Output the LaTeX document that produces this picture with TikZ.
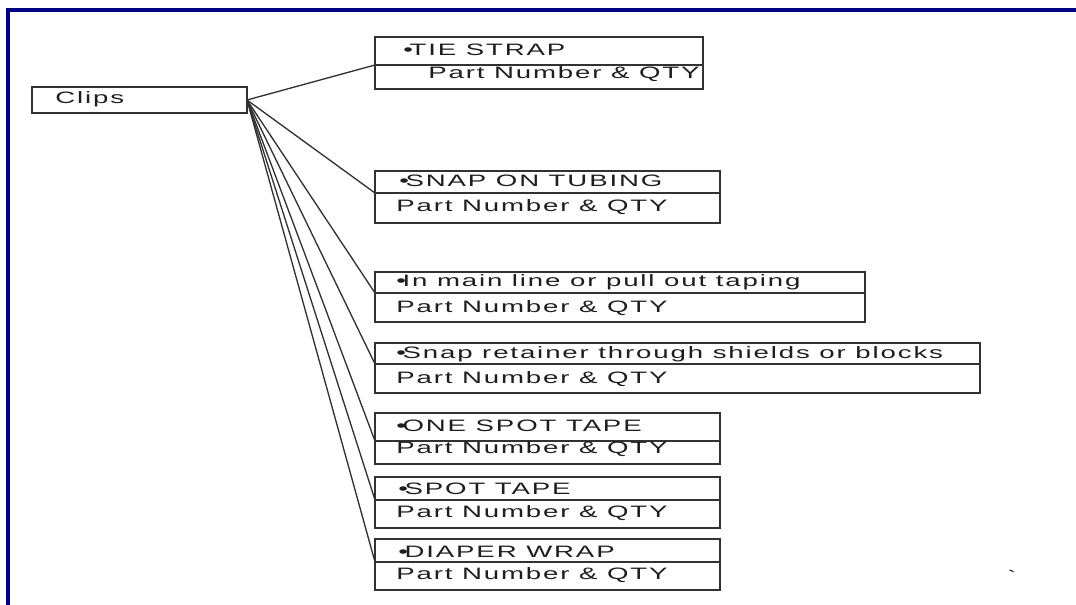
\documentclass[tikz,border=0pt]{standalone}
\usepackage{fontspec}
\usetikzlibrary{shadows}
\newfontfamily\boxfont{Liberation Sans}[FakeStretch=1.67,LetterSpace=11.3]
\newcommand\bul{•\kern-2.5pt}
\definecolor{navyb}{RGB}{0,0,128}
\definecolor{lineg}{RGB}{50,50,50}
\definecolor{txtg}{RGB}{30,30,30}
\tikzset{
  cell/.style={draw=lineg, line width=0.9pt, fill=white, inner sep=0pt, outer sep=0pt, anchor=north west,
     drop shadow={shadow xshift=1.1pt, shadow yshift=-1.1pt, fill=black!45, opacity=1}},
  lbl/.style={anchor=base west, inner sep=0pt, text=txtg, font=\boxfont\fontsize{12.4pt}{14pt}\selectfont},
  conn/.style={draw=lineg, line width=1pt},
  frame/.style={draw=navyb, line width=3pt}
}
\begin{document}
\begin{tikzpicture}[x=0.75pt,y=-0.75pt]
\useasboundingbox (0,0) rectangle (1076,605);
% frame
\coordinate (fa) at (8,605);
\coordinate (fb) at (8,10);
\coordinate (fc) at (1076,10);
\draw[frame] (fa) -- (fb) -- (fc);
% root
\node[cell, minimum width={215*0.75pt}, minimum height={26*0.75pt}] (clips) at (32,87) {};
\node[lbl] (clipst) at (55,104) {Clips};
% boxes: upper cell, lower cell, texts
\node[cell, minimum width={328*0.75pt}, minimum height={28*0.75pt}] (u1) at (375,37) {};
\node[cell, minimum width={328*0.75pt}, minimum height={24*0.75pt}] (l1) at (375,65) {};
\node[lbl] (u1t) at (403,56) {\bul TIE STRAP};
\node[lbl] (l1t) at (428,79) {Part Number \& QTY};

\node[cell, minimum width={345*0.75pt}, minimum height={22*0.75pt}] (u2) at (375,171) {};
\node[cell, minimum width={345*0.75pt}, minimum height={30*0.75pt}] (l2) at (375,193) {};
\node[lbl] (u2t) at (399,187) {\bul SNAP ON TUBING};
\node[lbl] (l2t) at (396,212) {Part Number \& QTY};

\node[cell, minimum width={490*0.75pt}, minimum height={21*0.75pt}] (u3) at (375,272) {};
\node[cell, minimum width={490*0.75pt}, minimum height={29*0.75pt}] (l3) at (375,293) {};
\node[lbl] (u3t) at (396,287) {\bul In main line or pull out taping};
\node[lbl] (l3t) at (396,313) {Part Number \& QTY};

\node[cell, minimum width={605*0.75pt}, minimum height={21*0.75pt}] (u4) at (375,343) {};
\node[cell, minimum width={605*0.75pt}, minimum height={29*0.75pt}] (l4) at (375,364) {};
\node[lbl] (u4t) at (396,359) {\bul Snap retainer through shields or blocks};
\node[lbl] (l4t) at (396,384) {Part Number \& QTY};

\node[cell, minimum width={345*0.75pt}, minimum height={28*0.75pt}] (u5) at (375,413) {};
\node[cell, minimum width={345*0.75pt}, minimum height={23*0.75pt}] (l5) at (375,441) {};
\node[lbl] (u5t) at (396,432) {\bul ONE SPOT TAPE};
\node[lbl] (l5t) at (396,454) {Part Number \& QTY};

\node[cell, minimum width={345*0.75pt}, minimum height={23*0.75pt}] (u6) at (375,477) {};
\node[cell, minimum width={345*0.75pt}, minimum height={28*0.75pt}] (l6) at (375,500) {};
\node[lbl] (u6t) at (398,495) {\bul SPOT TAPE};
\node[lbl] (l6t) at (396,518) {Part Number \& QTY};

\node[cell, minimum width={345*0.75pt}, minimum height={23*0.75pt}] (u7) at (375,539) {};
\node[cell, minimum width={345*0.75pt}, minimum height={28*0.75pt}] (l7) at (375,562) {};
\node[lbl] (u7t) at (398,558) {\bul DIAPER WRAP};
\node[lbl] (l7t) at (396,580) {Part Number \& QTY};

% connectors
\foreach \b in {u1,u2,u3,u4,u5,u6,u7}
  \draw[conn] (clips.east) -- (\b.south west);

\node[lbl] (tick) at (1007,583) {`};
\end{tikzpicture}
\end{document}
